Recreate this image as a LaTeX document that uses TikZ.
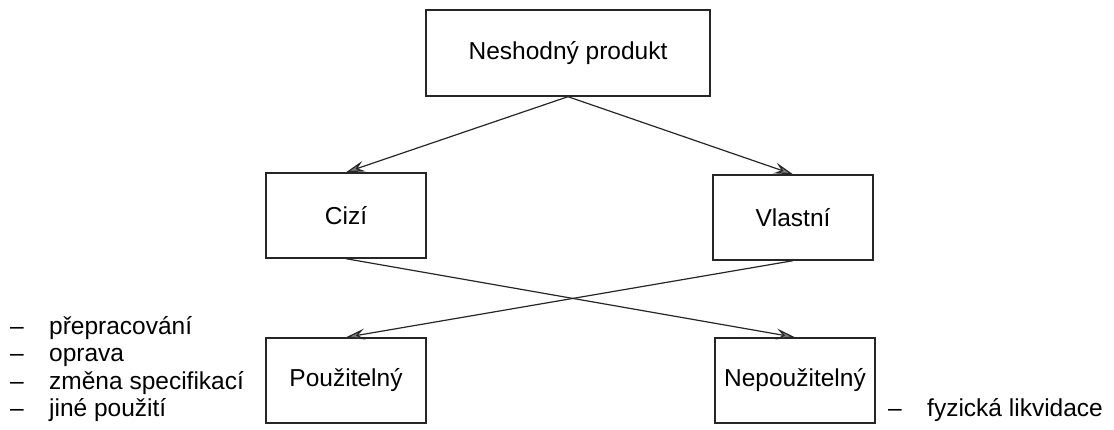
\documentclass[tikz,border=0pt]{standalone}
\usepackage{fontspec}
\setmainfont{Liberation Sans}
\usetikzlibrary{arrows.meta}

\begin{document}
\begin{tikzpicture}[x=1pt,y=-1pt,
    every node/.style={font=\fontsize{24.5}{27.5}\selectfont},
    box/.style={draw=black!85,line width=1.4pt,rectangle,minimum width=160pt,minimum height=85pt,inner sep=2pt},
    arr/.style={draw=black!85,line width=1.2pt,-{Stealth[length=19pt,width=11pt,inset=7pt,fill=black!50]}},
    pt/.style={align=left,inner sep=0pt,anchor=base west}]
  \useasboundingbox (0,0) rectangle (1114,430);
  % boxes
  \node[box,minimum width=284pt,minimum height=86pt] (nes) at (568,53) {Neshodný produkt};
  \node[box] (ciz) at (346,215.5) {Cizí};
  \node[box] (vla) at (793,217.5) {Vlastní};
  \node[box] (pou) at (346,380.5) {Použitelný};
  \node[box] (nep) at (795,380.5) {Nepoužitelný};
  % texts beside
  \node[pt] (lst) at (10,416.5) {\makebox[39pt][l]{\textendash}přepracování\\
    \makebox[39pt][l]{\textendash}oprava\\
    \makebox[39pt][l]{\textendash}změna specifikací\\
    \makebox[39pt][l]{\textendash}jiné použití};
  \node[pt] (fyz) at (888,416) {\makebox[39pt][l]{\textendash}fyzická likvidace};
  % arrows
  \draw[arr] (nes.south) -- (ciz.north);
  \draw[arr] (nes.south) -- (vla.north);
  \draw[arr] (ciz.south) -- (nep.north);
  \draw[arr] (vla.south) -- (pou.north);
\end{tikzpicture}
\end{document}
